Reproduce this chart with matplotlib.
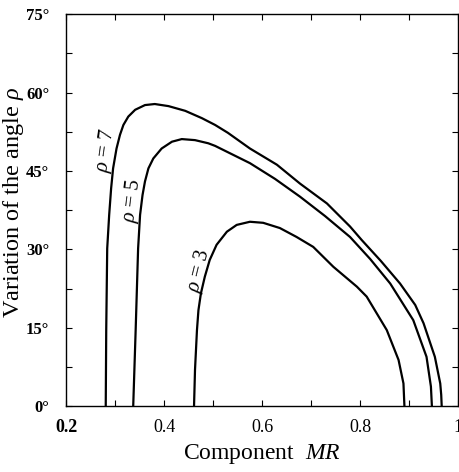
import numpy as np
import matplotlib
matplotlib.use("Agg")
import matplotlib.pyplot as plt
from matplotlib.ticker import MultipleLocator

plt.rcParams["font.family"] = ["Liberation Serif", "DejaVu Serif"]
plt.rcParams["mathtext.fontset"] = "custom"
plt.rcParams["mathtext.rm"] = "Liberation Serif"
plt.rcParams["mathtext.it"] = "Liberation Serif:italic"

# Curves: component MR vs. variation of the angle (deg)
mr_rho7 = [0.281, 0.282, 0.284, 0.288, 0.292, 0.296, 0.303, 0.310, 0.317, 0.327,
           0.341, 0.361, 0.381, 0.409, 0.443, 0.477, 0.504, 0.530, 0.575, 0.630,
           0.677, 0.732, 0.779, 0.803, 0.842, 0.881, 0.912, 0.929, 0.952, 0.963,
           0.965, 0.966]
ang_rho7 = [0.0, 14.6, 30.2, 36.6, 41.7, 45.5, 49.3, 51.9, 53.8, 55.4,
            56.7, 57.6, 57.8, 57.4, 56.5, 55.1, 53.8, 52.3, 49.3, 46.2,
            42.6, 38.8, 34.4, 31.8, 27.8, 23.5, 19.4, 15.9, 9.5, 4.4,
            2.2, 0.0]

mr_rho5 = [0.337, 0.342, 0.347, 0.351, 0.356, 0.361, 0.368, 0.378, 0.395, 0.416,
           0.436, 0.463, 0.490, 0.504, 0.575, 0.626, 0.677, 0.728, 0.779, 0.820,
           0.861, 0.908, 0.935, 0.944, 0.946]
ang_rho5 = [0.0, 14.6, 30.2, 36.6, 40.4, 43.0, 45.5, 47.4, 49.3, 50.6,
            51.1, 50.9, 50.3, 49.8, 46.5, 43.5, 40.1, 36.4, 32.4, 28.2,
            23.5, 16.5, 9.5, 3.8, 0.0]

mr_rho3 = [0.461, 0.463, 0.467, 0.470, 0.475, 0.483, 0.493, 0.507, 0.528, 0.548,
           0.575, 0.602, 0.636, 0.670, 0.704, 0.745, 0.793, 0.813, 0.854, 0.878,
           0.888, 0.890]
ang_rho3 = [0.0, 7.0, 14.6, 18.4, 21.6, 24.8, 28.0, 30.9, 33.4, 34.7,
            35.3, 35.1, 34.1, 32.4, 30.5, 26.7, 22.9, 21.0, 14.6, 8.9,
            4.4, 0.0]

curves = [(mr_rho7, ang_rho7), (mr_rho5, ang_rho5), (mr_rho3, ang_rho3)]

# curve labels: text, position (MR, angle), rotation
labels = ["$\\rho$ = 7", "$\\rho$ = 5", "$\\rho$ = 3"]
label_pos = [(0.2816, 49.0), (0.3356, 39.3), (0.4712, 25.9)]
label_rot = [82, 83, 76]

x_ticks = [0.2, 0.4, 0.6, 0.8, 1.0]
x_ticklabels = ["0.2", "0.4", "0.6", "0.8", "1"]
y_ticks = [0, 15, 30, 45, 60, 75]
y_ticklabels = ["0°", "15°", "30°", "45°", "60°", "75°"]

fig = plt.figure(figsize=(4.6, 4.72), dpi=100)
ax = fig.add_axes([0.1435, 0.1388, 0.853, 0.8315])

for mr, ang in curves:
    ax.plot(mr, ang, color="black", linewidth=1.6, solid_joinstyle="round")

for txt, (px, py), rot in zip(labels, label_pos, label_rot):
    ax.text(px, py, txt, rotation=rot, rotation_mode="anchor", ha="center",
            va="center", fontsize=15)

ax.set_xlim(0.2, 1.0)
ax.set_ylim(0, 75)
ax.set_xticks(x_ticks)
ax.set_xticklabels(x_ticklabels, fontsize=13)
ax.get_xticklabels()[0].set_fontweight("bold")
ax.set_yticks(y_ticks)
ax.set_yticklabels(y_ticklabels, fontsize=12, fontweight="bold")
ax.xaxis.set_minor_locator(MultipleLocator(0.1))
ax.yaxis.set_minor_locator(MultipleLocator(7.5))
ax.tick_params(which="both", direction="in", top=True, right=True,
               length=4, width=0.8)
ax.tick_params(axis="x", which="major", pad=9)
ax.tick_params(axis="y", which="major", pad=12)
for sp in ax.spines.values():
    sp.set_linewidth(1.0)

ax.set_xlabel("Component  $\\mathit{MR}$", fontsize=17, labelpad=4)
ax.set_ylabel("Variation of the angle $\\rho$", fontsize=17.5)
ax.yaxis.set_label_coords(-0.101, 0.52)

plt.savefig("out.png", dpi=100)
